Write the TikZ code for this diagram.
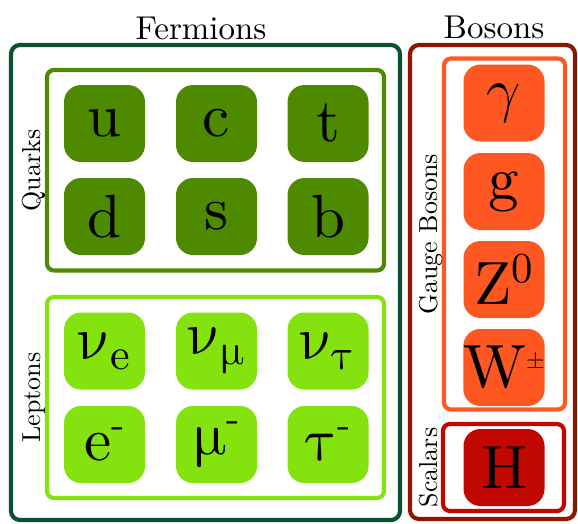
\RequirePackage{fix-cm}
\documentclass[tikz,border=0pt]{standalone}
\usepackage{fontspec}
\setmainfont{lmroman10-regular.otf}
\newfontfamily\grk{Latin Modern Math}
\definecolor{fermc}{RGB}{11,82,48}
\definecolor{quarkc}{RGB}{78,138,0}
\definecolor{leptc}{RGB}{132,226,14}
\definecolor{bosc}{RGB}{142,22,0}
\definecolor{gaugec}{RGB}{255,87,34}
\definecolor{scalc}{RGB}{192,8,0}
\newcommand{\subtxt}[1]{\raisebox{-10pt}{\fontsize{44}{44}\selectfont #1}}
\newcommand{\mintxt}{\raisebox{23pt}{\fontsize{40}{40}\selectfont -}}
\begin{document}
\begin{tikzpicture}[x=1pt,y=-1pt,
  grp/.style={line width=4.2pt, rounded corners=9pt},
  subgrp/.style={line width=4.2pt, rounded corners=7pt},
  part/.style={rounded corners=17pt, minimum width=81pt, minimum height=77pt, inner sep=0pt, font=\fontsize{61}{61}\selectfont},
  title/.style={font=\fontsize{33}{33}\selectfont, anchor=base, inner sep=0pt},
  side/.style={font=\fontsize{26}{26}\selectfont, rotate=90, anchor=base, inner sep=0pt}]
\useasboundingbox (0,0) rectangle (578,523);
% group boxes
\draw[grp, fermc] (11,45) rectangle (400,520);
\draw[grp, bosc] (410,45) rectangle (575,519);
\draw[subgrp, quarkc] (47,70) rectangle (384,270.5);
\draw[subgrp, leptc] (47,297) rectangle (384,498);
\draw[subgrp, gaugec] (444,58.5) rectangle (565,409.5);
\draw[subgrp, scalc] (443,424) rectangle (564,511);
% titles
\node[title] (fermions) at (201,39) {Fermions};
\node[title] (bosons) at (494,38) {Bosons};
\node[side] (quarks) at (40,170.5) {Quarks};
\node[side] (leptons) at (40,397.5) {Leptons};
\node[side] (gauge) at (437,234) {Gauge Bosons};
\node[side] (scalars) at (437,467.5) {Scalars};
% quarks
\node[part, fill=quarkc] (u) at (104.5,123.5) {u};
\node[part, fill=quarkc] (c) at (216.5,123.5) {c};
\node[part, fill=quarkc] (t) at (328,123.5) {t};
\node[part, fill=quarkc] (d) at (104.5,216.5) {d};
\node[part, fill=quarkc] (s) at (216.5,216.5) {s};
\node[part, fill=quarkc] (b) at (328,216.5) {b};
% leptons
\node[part, fill=leptc] (nue) at (104.5,351) {{\grk ν}\subtxt{e}};
\node[part, fill=leptc] (numu) at (216.5,351) {{\grk ν}\subtxt{\grk μ}};
\node[part, fill=leptc] (nutau) at (328,351) {{\grk ν}\subtxt{\grk τ}};
\node[part, fill=leptc] (e) at (104.5,444.5) {e\mintxt};
\node[part, fill=leptc] (mu) at (216.5,444.5) {{\grk μ}\mintxt};
\node[part, fill=leptc] (tau) at (328,444.5) {{\grk τ}\mintxt};
% bosons
\node[part, fill=gaugec] (gamma) at (504,103) {$\gamma$};
\node[part, fill=gaugec] (g) at (504,191.5) {g};
\node[part, fill=gaugec] (Z) at (504,279.5) {Z\textsuperscript{0}};
\node[part, fill=gaugec] (W) at (504,367.5) {W\raisebox{19pt}{\fontsize{24}{24}\selectfont ±}};
\node[part, fill=scalc] (H) at (504,467.5) {H};
\end{tikzpicture}
\end{document}
